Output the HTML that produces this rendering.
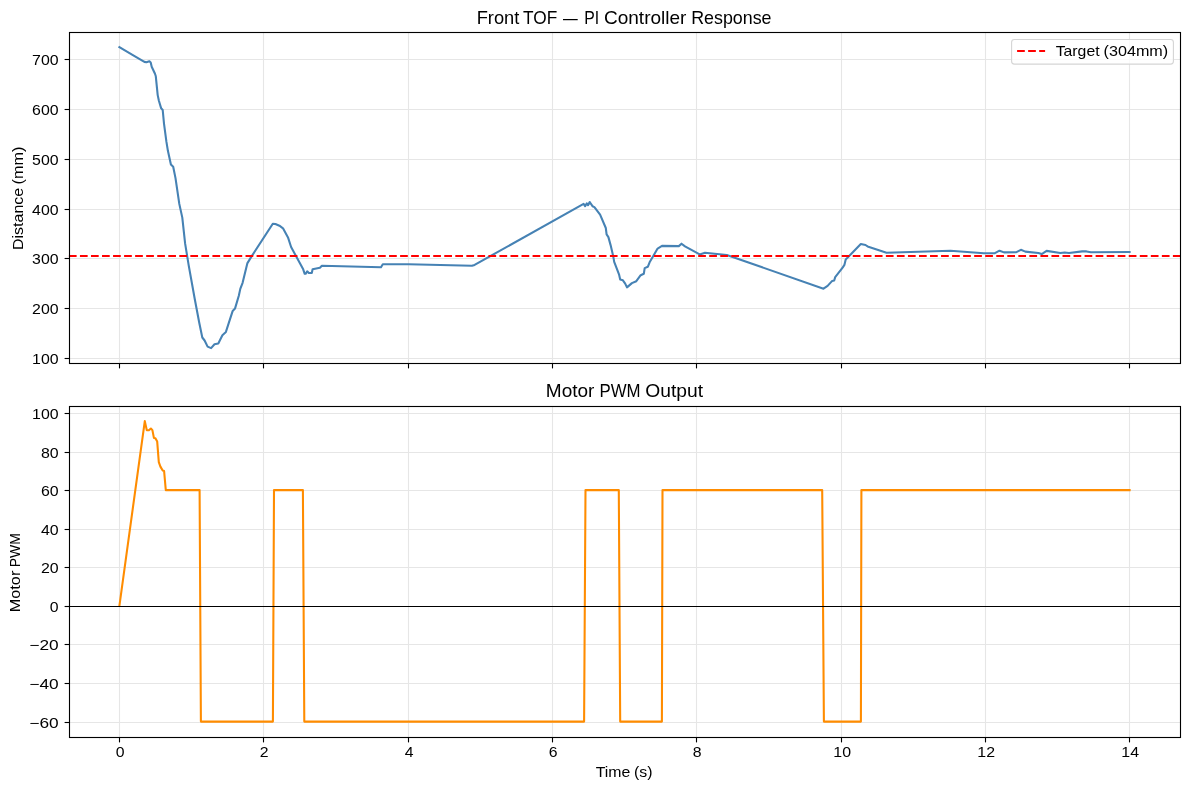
<!DOCTYPE html><html><head><meta charset="utf-8"><style>html,body{margin:0;padding:0;background:#fff;}svg{display:block;}text{font-family:"Liberation Sans",sans-serif;fill:#000;}svg{will-change:transform;}</style></head><body>
<svg width="1189" height="790" viewBox="0 0 1189 790">
<rect width="1189" height="790" fill="#fff"/>
<line x1="119.50" y1="32.50" x2="119.50" y2="363.50" stroke="#e6e6e6" stroke-width="1.11"/>
<line x1="119.50" y1="406.50" x2="119.50" y2="737.50" stroke="#e6e6e6" stroke-width="1.11"/>
<line x1="263.50" y1="32.50" x2="263.50" y2="363.50" stroke="#e6e6e6" stroke-width="1.11"/>
<line x1="263.50" y1="406.50" x2="263.50" y2="737.50" stroke="#e6e6e6" stroke-width="1.11"/>
<line x1="408.50" y1="32.50" x2="408.50" y2="363.50" stroke="#e6e6e6" stroke-width="1.11"/>
<line x1="408.50" y1="406.50" x2="408.50" y2="737.50" stroke="#e6e6e6" stroke-width="1.11"/>
<line x1="552.50" y1="32.50" x2="552.50" y2="363.50" stroke="#e6e6e6" stroke-width="1.11"/>
<line x1="552.50" y1="406.50" x2="552.50" y2="737.50" stroke="#e6e6e6" stroke-width="1.11"/>
<line x1="696.50" y1="32.50" x2="696.50" y2="363.50" stroke="#e6e6e6" stroke-width="1.11"/>
<line x1="696.50" y1="406.50" x2="696.50" y2="737.50" stroke="#e6e6e6" stroke-width="1.11"/>
<line x1="841.50" y1="32.50" x2="841.50" y2="363.50" stroke="#e6e6e6" stroke-width="1.11"/>
<line x1="841.50" y1="406.50" x2="841.50" y2="737.50" stroke="#e6e6e6" stroke-width="1.11"/>
<line x1="985.50" y1="32.50" x2="985.50" y2="363.50" stroke="#e6e6e6" stroke-width="1.11"/>
<line x1="985.50" y1="406.50" x2="985.50" y2="737.50" stroke="#e6e6e6" stroke-width="1.11"/>
<line x1="1129.50" y1="32.50" x2="1129.50" y2="363.50" stroke="#e6e6e6" stroke-width="1.11"/>
<line x1="1129.50" y1="406.50" x2="1129.50" y2="737.50" stroke="#e6e6e6" stroke-width="1.11"/>
<line x1="68.90" y1="358.50" x2="1180.10" y2="358.50" stroke="#e6e6e6" stroke-width="1.11"/>
<line x1="68.90" y1="308.50" x2="1180.10" y2="308.50" stroke="#e6e6e6" stroke-width="1.11"/>
<line x1="68.90" y1="258.50" x2="1180.10" y2="258.50" stroke="#e6e6e6" stroke-width="1.11"/>
<line x1="68.90" y1="209.50" x2="1180.10" y2="209.50" stroke="#e6e6e6" stroke-width="1.11"/>
<line x1="68.90" y1="159.50" x2="1180.10" y2="159.50" stroke="#e6e6e6" stroke-width="1.11"/>
<line x1="68.90" y1="109.50" x2="1180.10" y2="109.50" stroke="#e6e6e6" stroke-width="1.11"/>
<line x1="68.90" y1="59.50" x2="1180.10" y2="59.50" stroke="#e6e6e6" stroke-width="1.11"/>
<line x1="68.90" y1="722.50" x2="1180.10" y2="722.50" stroke="#e6e6e6" stroke-width="1.11"/>
<line x1="68.90" y1="683.50" x2="1180.10" y2="683.50" stroke="#e6e6e6" stroke-width="1.11"/>
<line x1="68.90" y1="644.50" x2="1180.10" y2="644.50" stroke="#e6e6e6" stroke-width="1.11"/>
<line x1="68.90" y1="606.50" x2="1180.10" y2="606.50" stroke="#e6e6e6" stroke-width="1.11"/>
<line x1="68.90" y1="567.50" x2="1180.10" y2="567.50" stroke="#e6e6e6" stroke-width="1.11"/>
<line x1="68.90" y1="529.50" x2="1180.10" y2="529.50" stroke="#e6e6e6" stroke-width="1.11"/>
<line x1="68.90" y1="490.50" x2="1180.10" y2="490.50" stroke="#e6e6e6" stroke-width="1.11"/>
<line x1="68.90" y1="452.50" x2="1180.10" y2="452.50" stroke="#e6e6e6" stroke-width="1.11"/>
<line x1="68.90" y1="413.50" x2="1180.10" y2="413.50" stroke="#e6e6e6" stroke-width="1.11"/>
<path d="M119.4 47.1 L135.0 56.3 L144.4 61.9 L146.4 62.2 L149.4 61.2 L150.7 62.4 L151.7 66.7 L155.0 73.8 L155.8 76.3 L157.7 95.1 L158.9 100.8 L161.1 108.1 L162.7 110.0 L164.0 123.6 L166.4 141.7 L167.9 150.8 L170.9 164.5 L173.2 166.7 L175.5 178.1 L179.3 203.9 L182.3 217.6 L185.1 243.4 L188.7 265.4 L194.7 298.8 L199.3 323.0 L202.3 337.5 L204.6 340.5 L207.6 346.6 L211.1 348.1 L214.5 344.3 L218.3 343.5 L222.4 335.2 L225.9 331.9 L232.7 310.9 L235.0 308.6 L238.8 295.7 L240.3 288.9 L242.6 282.8 L247.3 263.4 L251.1 257.1 L272.8 223.7 L275.4 224.0 L279.4 225.7 L283.0 228.3 L288.0 237.4 L291.1 247.0 L303.2 269.3 L304.7 273.8 L305.7 273.8 L307.2 271.3 L308.8 273.0 L311.8 273.0 L312.6 269.3 L319.9 267.8 L321.9 265.7 L381.0 267.2 L382.8 264.2 L408.6 264.2 L471.9 265.8 L474.6 264.9 L583.6 203.9 L585.1 206.2 L586.8 203.3 L588.0 205.2 L589.7 202.0 L592.5 206.2 L594.4 207.1 L600.1 214.7 L605.8 228.0 L606.6 234.4 L608.4 237.1 L610.6 245.1 L613.3 256.6 L614.2 261.9 L619.0 274.3 L620.2 279.6 L622.9 280.3 L625.2 283.6 L627.0 287.4 L631.9 283.1 L636.3 281.2 L640.7 275.2 L643.8 273.8 L644.7 268.1 L647.8 266.8 L649.6 262.3 L657.6 248.6 L662.0 245.9 L678.8 246.1 L681.5 243.7 L685.0 246.4 L699.7 254.4 L705.0 252.7 L726.8 255.0 L823.5 288.7 L827.6 285.9 L832.2 280.9 L834.2 280.5 L835.2 277.1 L842.8 267.4 L844.4 264.9 L845.7 259.4 L847.4 257.8 L860.8 244.1 L865.5 245.0 L867.6 246.4 L886.5 252.7 L950.5 250.7 L983.8 253.2 L994.9 253.2 L999.5 250.7 L1004.0 252.4 L1016.4 252.2 L1020.9 249.8 L1025.3 251.6 L1038.4 253.0 L1041.7 254.1 L1046.6 250.9 L1060.3 253.0 L1064.7 252.5 L1069.0 253.0 L1082.2 251.4 L1086.5 251.4 L1090.9 252.3 L1129.6 252.0" fill="none" stroke="#4682b4" stroke-width="2.08" stroke-linejoin="round" stroke-linecap="square"/>
<path d="M119.4 605.9 L144.8 421.1 L146.8 430.2 L148.9 430.3 L150.9 428.5 L152.4 430.1 L153.9 437.9 L155.4 438.3 L157.2 441.6 L158.8 462.1 L160.4 466.6 L162.7 470.5 L164.1 471.0 L165.8 490.1 L199.6 490.1 L200.9 721.6 L272.9 721.6 L274.0 490.1 L302.9 490.1 L304.3 721.6 L584.1 721.6 L585.5 490.1 L618.8 490.1 L620.2 721.6 L661.9 721.6 L662.5 490.1 L822.2 490.1 L823.9 721.6 L860.9 721.6 L861.4 490.1 L1129.6 490.1" fill="none" stroke="#ff8c00" stroke-width="2.08" stroke-linejoin="round" stroke-linecap="square"/>
<line x1="68.90" y1="256.00" x2="1180.10" y2="256.00" stroke="#ff0000" stroke-width="2.08" stroke-dasharray="7.71 3.33"/>
<line x1="68.90" y1="606.50" x2="1180.10" y2="606.50" stroke="#000" stroke-width="1.11"/>
<rect x="69.5" y="32.5" width="1111" height="331.0" fill="none" stroke="#000" stroke-width="1.11"/>
<rect x="69.5" y="406.5" width="1111" height="331.0" fill="none" stroke="#000" stroke-width="1.11"/>
<line x1="119.50" y1="363.50" x2="119.50" y2="368.40" stroke="#000" stroke-width="1.11"/>
<line x1="263.50" y1="363.50" x2="263.50" y2="368.40" stroke="#000" stroke-width="1.11"/>
<line x1="408.50" y1="363.50" x2="408.50" y2="368.40" stroke="#000" stroke-width="1.11"/>
<line x1="552.50" y1="363.50" x2="552.50" y2="368.40" stroke="#000" stroke-width="1.11"/>
<line x1="696.50" y1="363.50" x2="696.50" y2="368.40" stroke="#000" stroke-width="1.11"/>
<line x1="841.50" y1="363.50" x2="841.50" y2="368.40" stroke="#000" stroke-width="1.11"/>
<line x1="985.50" y1="363.50" x2="985.50" y2="368.40" stroke="#000" stroke-width="1.11"/>
<line x1="1129.50" y1="363.50" x2="1129.50" y2="368.40" stroke="#000" stroke-width="1.11"/>
<line x1="64.60" y1="358.50" x2="69.50" y2="358.50" stroke="#000" stroke-width="1.11"/>
<line x1="64.60" y1="308.50" x2="69.50" y2="308.50" stroke="#000" stroke-width="1.11"/>
<line x1="64.60" y1="258.50" x2="69.50" y2="258.50" stroke="#000" stroke-width="1.11"/>
<line x1="64.60" y1="209.50" x2="69.50" y2="209.50" stroke="#000" stroke-width="1.11"/>
<line x1="64.60" y1="159.50" x2="69.50" y2="159.50" stroke="#000" stroke-width="1.11"/>
<line x1="64.60" y1="109.50" x2="69.50" y2="109.50" stroke="#000" stroke-width="1.11"/>
<line x1="64.60" y1="59.50" x2="69.50" y2="59.50" stroke="#000" stroke-width="1.11"/>
<line x1="119.50" y1="737.50" x2="119.50" y2="742.40" stroke="#000" stroke-width="1.11"/>
<line x1="263.50" y1="737.50" x2="263.50" y2="742.40" stroke="#000" stroke-width="1.11"/>
<line x1="408.50" y1="737.50" x2="408.50" y2="742.40" stroke="#000" stroke-width="1.11"/>
<line x1="552.50" y1="737.50" x2="552.50" y2="742.40" stroke="#000" stroke-width="1.11"/>
<line x1="696.50" y1="737.50" x2="696.50" y2="742.40" stroke="#000" stroke-width="1.11"/>
<line x1="841.50" y1="737.50" x2="841.50" y2="742.40" stroke="#000" stroke-width="1.11"/>
<line x1="985.50" y1="737.50" x2="985.50" y2="742.40" stroke="#000" stroke-width="1.11"/>
<line x1="1129.50" y1="737.50" x2="1129.50" y2="742.40" stroke="#000" stroke-width="1.11"/>
<line x1="64.60" y1="722.50" x2="69.50" y2="722.50" stroke="#000" stroke-width="1.11"/>
<line x1="64.60" y1="683.50" x2="69.50" y2="683.50" stroke="#000" stroke-width="1.11"/>
<line x1="64.60" y1="644.50" x2="69.50" y2="644.50" stroke="#000" stroke-width="1.11"/>
<line x1="64.60" y1="606.50" x2="69.50" y2="606.50" stroke="#000" stroke-width="1.11"/>
<line x1="64.60" y1="567.50" x2="69.50" y2="567.50" stroke="#000" stroke-width="1.11"/>
<line x1="64.60" y1="529.50" x2="69.50" y2="529.50" stroke="#000" stroke-width="1.11"/>
<line x1="64.60" y1="490.50" x2="69.50" y2="490.50" stroke="#000" stroke-width="1.11"/>
<line x1="64.60" y1="452.50" x2="69.50" y2="452.50" stroke="#000" stroke-width="1.11"/>
<line x1="64.60" y1="413.50" x2="69.50" y2="413.50" stroke="#000" stroke-width="1.11"/>
<text x="58.60" y="363.80" font-size="13.90" text-anchor="end" textLength="26.5" lengthAdjust="spacingAndGlyphs">100</text>
<text x="58.60" y="313.80" font-size="13.90" text-anchor="end" textLength="26.5" lengthAdjust="spacingAndGlyphs">200</text>
<text x="58.60" y="263.80" font-size="13.90" text-anchor="end" textLength="26.5" lengthAdjust="spacingAndGlyphs">300</text>
<text x="58.60" y="214.80" font-size="13.90" text-anchor="end" textLength="26.5" lengthAdjust="spacingAndGlyphs">400</text>
<text x="58.60" y="164.80" font-size="13.90" text-anchor="end" textLength="26.5" lengthAdjust="spacingAndGlyphs">500</text>
<text x="58.60" y="114.80" font-size="13.90" text-anchor="end" textLength="26.5" lengthAdjust="spacingAndGlyphs">600</text>
<text x="58.60" y="64.80" font-size="13.90" text-anchor="end" textLength="26.5" lengthAdjust="spacingAndGlyphs">700</text>
<text x="58.60" y="727.80" font-size="13.90" text-anchor="end" textLength="29.3" lengthAdjust="spacingAndGlyphs">−60</text>
<text x="58.60" y="688.80" font-size="13.90" text-anchor="end" textLength="29.3" lengthAdjust="spacingAndGlyphs">−40</text>
<text x="58.60" y="649.80" font-size="13.90" text-anchor="end" textLength="29.3" lengthAdjust="spacingAndGlyphs">−20</text>
<text x="58.60" y="611.80" font-size="13.90" text-anchor="end" textLength="8.8" lengthAdjust="spacingAndGlyphs">0</text>
<text x="58.60" y="572.80" font-size="13.90" text-anchor="end" textLength="17.7" lengthAdjust="spacingAndGlyphs">20</text>
<text x="58.60" y="534.80" font-size="13.90" text-anchor="end" textLength="17.7" lengthAdjust="spacingAndGlyphs">40</text>
<text x="58.60" y="495.80" font-size="13.90" text-anchor="end" textLength="17.7" lengthAdjust="spacingAndGlyphs">60</text>
<text x="58.60" y="457.80" font-size="13.90" text-anchor="end" textLength="17.7" lengthAdjust="spacingAndGlyphs">80</text>
<text x="58.60" y="418.80" font-size="13.90" text-anchor="end" textLength="26.5" lengthAdjust="spacingAndGlyphs">100</text>
<text x="120.20" y="757.00" font-size="13.90" text-anchor="middle" textLength="8.8" lengthAdjust="spacingAndGlyphs">0</text>
<text x="264.20" y="757.00" font-size="13.90" text-anchor="middle" textLength="8.8" lengthAdjust="spacingAndGlyphs">2</text>
<text x="409.20" y="757.00" font-size="13.90" text-anchor="middle" textLength="8.8" lengthAdjust="spacingAndGlyphs">4</text>
<text x="553.20" y="757.00" font-size="13.90" text-anchor="middle" textLength="8.8" lengthAdjust="spacingAndGlyphs">6</text>
<text x="697.20" y="757.00" font-size="13.90" text-anchor="middle" textLength="8.8" lengthAdjust="spacingAndGlyphs">8</text>
<text x="842.20" y="757.00" font-size="13.90" text-anchor="middle" textLength="17.7" lengthAdjust="spacingAndGlyphs">10</text>
<text x="986.20" y="757.00" font-size="13.90" text-anchor="middle" textLength="17.7" lengthAdjust="spacingAndGlyphs">12</text>
<text x="1130.20" y="757.00" font-size="13.90" text-anchor="middle" textLength="17.7" lengthAdjust="spacingAndGlyphs">14</text>
<text x="476.70" y="24.00" font-size="17.80" text-anchor="start" textLength="42.7" lengthAdjust="spacingAndGlyphs">Front</text>
<text x="523.05" y="24.00" font-size="17.80" text-anchor="start" textLength="34.2" lengthAdjust="spacingAndGlyphs">TOF</text>
<text x="563.03" y="24.00" font-size="17.80" text-anchor="start" textLength="14.7" lengthAdjust="spacingAndGlyphs">—</text>
<text x="584.23" y="24.00" font-size="17.80" text-anchor="start" textLength="14.9" lengthAdjust="spacingAndGlyphs">PI</text>
<text x="603.95" y="24.00" font-size="17.80" text-anchor="start" textLength="82.5" lengthAdjust="spacingAndGlyphs">Controller</text>
<text x="691.21" y="24.00" font-size="17.80" text-anchor="start" textLength="80.3" lengthAdjust="spacingAndGlyphs">Response</text>
<text x="545.83" y="396.70" font-size="17.80" text-anchor="start" textLength="48.6" lengthAdjust="spacingAndGlyphs">Motor</text>
<text x="599.49" y="396.70" font-size="17.80" text-anchor="start" textLength="41.1" lengthAdjust="spacingAndGlyphs">PWM</text>
<text x="645.25" y="396.70" font-size="17.80" text-anchor="start" textLength="57.8" lengthAdjust="spacingAndGlyphs">Output</text>
<text x="595.67" y="776.90" font-size="13.90" text-anchor="start" textLength="34.6" lengthAdjust="spacingAndGlyphs">Time</text>
<text x="634.02" y="776.90" font-size="13.90" text-anchor="start" textLength="18.5" lengthAdjust="spacingAndGlyphs">(s)</text>
<text transform="translate(23.00,0) rotate(-90)" x="-250.105" y="0" font-size="13.90" textLength="62.299" lengthAdjust="spacingAndGlyphs">Distance</text>
<text transform="translate(23.00,0) rotate(-90)" x="-184.416" y="0" font-size="13.90" textLength="37.713" lengthAdjust="spacingAndGlyphs">(mm)</text>
<text transform="translate(19.80,0) rotate(-90)" x="-612.234" y="0" font-size="13.90" textLength="41.508" lengthAdjust="spacingAndGlyphs">Motor</text>
<text transform="translate(19.80,0) rotate(-90)" x="-567.240" y="0" font-size="13.90" textLength="34.124" lengthAdjust="spacingAndGlyphs">PWM</text>
<rect x="1011.6" y="39.5" width="161.8" height="24.6" rx="2.8" ry="2.8" fill="#fff" fill-opacity="0.8" stroke="#d5d5d5" stroke-width="1.11"/>
<line x1="1017.1" y1="51.0" x2="1045.1" y2="51.0" stroke="#ff0000" stroke-width="2.08" stroke-dasharray="7.71 3.33"/>
<text x="1055.67" y="55.70" font-size="13.90" text-anchor="start" textLength="43.9" lengthAdjust="spacingAndGlyphs">Target</text>
<text x="1103.58" y="55.70" font-size="13.90" text-anchor="start" textLength="64.6" lengthAdjust="spacingAndGlyphs">(304mm)</text>
</svg></body></html>
